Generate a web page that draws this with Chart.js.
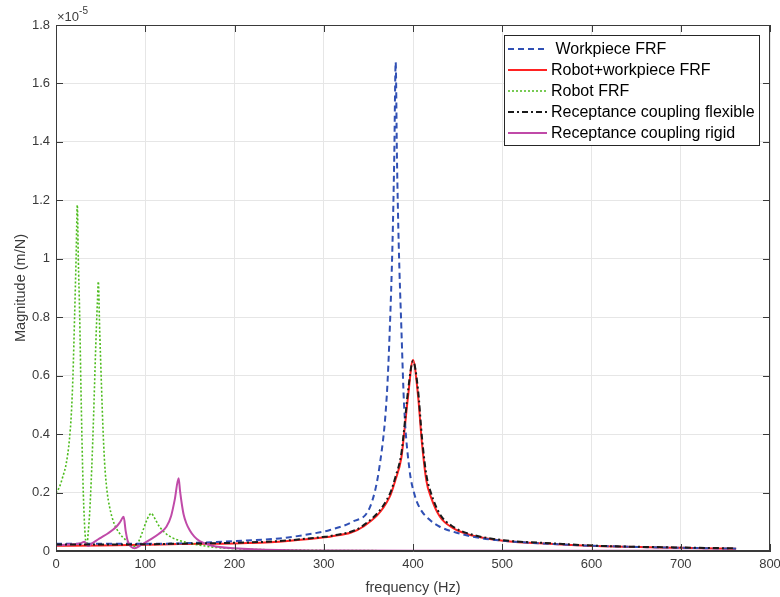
<!DOCTYPE html>
<html>
<head>
<meta charset="utf-8">
<title>FRF comparison</title>
<script src="https://cdn.jsdelivr.net/npm/chart.js@4.4.0/dist/chart.umd.min.js"></script>
<style>
  html, body { margin: 0; padding: 0; background: #fff; }
  #frf { display: block; }
</style>
</head>
<body>
<canvas id="frf" width="780" height="597"></canvas>
<script>
// ---------- Data (magnitudes in 1e-5 m/N) ----------
const xTicks = [0, 100, 200, 300, 400, 500, 600, 700, 800];
const yTicks = [0, 0.2, 0.4, 0.6, 0.8, 1, 1.2, 1.4, 1.6, 1.8];

const workpieceFreq = [0, 50, 100, 138, 200, 250, 299, 307, 332, 352, 363, 370.6, 374, 377, 379, 380.6, 382, 384, 387, 390, 396, 402, 408, 419, 430, 445, 467, 501, 550, 600, 650, 700, 762];
const workpieceMag  = [0.025, 0.025, 0.025, 0.026, 0.034, 0.043, 0.066, 0.072, 0.10, 0.152, 0.30, 0.53, 0.76, 1.05, 1.35, 1.673, 1.35, 1.05, 0.76, 0.5, 0.28, 0.19, 0.145, 0.106, 0.083, 0.066, 0.049, 0.035, 0.025, 0.018, 0.014, 0.011, 0.008];

const combinedFreq = [0, 50, 100, 138, 200, 250, 299, 307, 344, 374, 380, 387, 390, 394.5, 400, 405.7, 410, 415, 420, 430, 445, 464, 501, 557, 606, 700, 762];
const combinedMag  = [0.018, 0.019, 0.021, 0.024, 0.026, 0.032, 0.046, 0.049, 0.083, 0.186, 0.24, 0.32, 0.40, 0.53, 0.654, 0.53, 0.37, 0.24, 0.185, 0.118, 0.078, 0.055, 0.035, 0.024, 0.017, 0.011, 0.008];

const robotFreq = [0, 4, 7.7, 11.5, 15, 17.2, 19, 20.9, 22.5, 23.9, 25, 26.5, 28, 30.2, 32, 33.2, 34.7, 36, 37.7, 40, 42.2, 44, 45.2, 46.5, 47.4, 49, 50.8, 52.5, 54.5, 57, 60.1, 65, 71.3, 78, 84, 88, 93, 97.4, 101, 104, 106.8, 110, 116, 123, 130.7, 145, 161, 180, 200, 225, 250, 300, 400, 500, 600, 700, 762];
const robotMag  = [0.198, 0.22, 0.255, 0.30, 0.38, 0.47, 0.6, 0.81, 1.0, 1.184, 1.0, 0.81, 0.55, 0.24, 0.09, 0.037, 0.02, 0.06, 0.13, 0.28, 0.47, 0.65, 0.76, 0.86, 0.922, 0.75, 0.58, 0.43, 0.30, 0.21, 0.15, 0.095, 0.06, 0.038, 0.022, 0.016, 0.035, 0.07, 0.1, 0.12, 0.129, 0.115, 0.083, 0.06, 0.045, 0.03, 0.02, 0.012, 0.008, 0.005, 0.004, 0.002, 0.001, 0.001, 0.001, 0.001, 0.001];

const flexibleFreq = [0, 50, 100, 138, 200, 250, 299, 307, 344, 374, 380, 387, 390, 394.5, 400, 405.7, 410, 415, 420, 430, 445, 464, 501, 557, 606, 700, 762];
const flexibleMag  = [0.022, 0.022, 0.023, 0.025, 0.028, 0.034, 0.048, 0.051, 0.087, 0.195, 0.25, 0.335, 0.415, 0.55, 0.65, 0.55, 0.39, 0.26, 0.2, 0.127, 0.083, 0.058, 0.037, 0.026, 0.018, 0.012, 0.009];

const rigidFreq = [0, 15, 28, 32, 35.8, 40, 48.9, 58, 67.6, 72, 75.8, 78, 80.6, 84, 88.1, 95, 105, 115, 123.7, 129, 133, 137.4, 139, 141, 143, 146, 150, 155, 161, 175, 200, 250, 300, 400, 500, 600, 700, 762];
const rigidMag  = [0.02, 0.022, 0.027, 0.032, 0.017, 0.025, 0.043, 0.06, 0.083, 0.1, 0.117, 0.07, 0.032, 0.015, 0.009, 0.02, 0.038, 0.058, 0.083, 0.12, 0.175, 0.249, 0.205, 0.16, 0.125, 0.095, 0.07, 0.049, 0.034, 0.018, 0.009, 0.003, 0.002, 0.001, 0.001, 0.001, 0.001, 0.001];

// ---------- Helpers ----------
const FONT = "'Liberation Sans', Arial, sans-serif";
const AXIS_COLOR = '#3a3a3a';

function pts(freq, mag) {
  return freq.map((f, i) => ({ x: f, y: mag[i] }));
}

// MATLAB-ish box, inward ticks, exponent label and legend
const matlabDecor = {
  id: 'matlabDecor',
  afterDraw(chart) {
    const { ctx, chartArea: a, scales } = chart;
    ctx.save();

    // box outline
    ctx.strokeStyle = AXIS_COLOR;
    ctx.lineWidth = 1;
    ctx.strokeRect(Math.round(a.left) + 0.5, Math.round(a.top) + 0.5,
      Math.round(a.right - a.left) - 1, Math.round(a.bottom - a.top) - 1);

    // inward tick marks
    ctx.beginPath();
    for (const t of xTicks) {
      const px = Math.round(scales.x.getPixelForValue(t)) + 0.5;
      ctx.moveTo(px, a.bottom); ctx.lineTo(px, a.bottom - 7);
      ctx.moveTo(px, a.top); ctx.lineTo(px, a.top + 7);
    }
    for (const t of yTicks) {
      const py = Math.round(scales.y.getPixelForValue(t)) + 0.5;
      ctx.moveTo(a.left, py); ctx.lineTo(a.left + 7, py);
      ctx.moveTo(a.right, py); ctx.lineTo(a.right - 7, py);
    }
    ctx.stroke();

    // exponent label
    ctx.fillStyle = AXIS_COLOR;
    ctx.textBaseline = 'alphabetic';
    ctx.textAlign = 'left';
    ctx.font = `13px ${FONT}`;
    const base = '\u00d710';
    ctx.fillText(base, a.left + 1, a.top - 4);
    const bw = ctx.measureText(base).width;
    ctx.font = `10px ${FONT}`;
    ctx.fillText('-5', a.left + 1 + bw, a.top - 11);

    // legend
    ctx.font = `16px ${FONT}`;
    const sets = chart.data.datasets;
    let maxW = 0;
    for (const d of sets) maxW = Math.max(maxW, ctx.measureText(d.label).width);
    const rowH = 21, sample = 39;
    const boxW = Math.ceil(4 + sample + 4 + maxW + 4);
    const boxH = rowH * sets.length + 5;
    const bx = Math.round(a.right - 11 - boxW);
    const by = Math.round(a.top + 10);
    ctx.fillStyle = '#fff';
    ctx.fillRect(bx, by, boxW, boxH);
    ctx.strokeStyle = '#262626';
    ctx.lineWidth = 1;
    ctx.setLineDash([]);
    ctx.strokeRect(bx + 0.5, by + 0.5, boxW, boxH);

    sets.forEach((d, i) => {
      const cy = by + 14 + i * rowH;
      ctx.beginPath();
      ctx.strokeStyle = d.borderColor;
      ctx.lineWidth = d.borderWidth;
      ctx.setLineDash(d.borderDash || []);
      ctx.moveTo(bx + 4, cy); ctx.lineTo(bx + 4 + sample, cy);
      ctx.stroke();
      ctx.setLineDash([]);
      ctx.fillStyle = '#000';
      ctx.textBaseline = 'middle';
      ctx.fillText(d.label, bx + 4 + sample + 4, cy + 1);
    });
    ctx.restore();
  }
};

// ---------- Chart ----------
const lineBase = { pointRadius: 0, fill: false, cubicInterpolationMode: 'monotone' };

new Chart(document.getElementById('frf'), {
  type: 'line',
  data: {
    datasets: [
      { ...lineBase, label: ' Workpiece FRF', data: pts(workpieceFreq, workpieceMag),
        borderColor: '#3050b4', borderWidth: 2, borderDash: [6, 4], order: 2 },
      { ...lineBase, label: 'Robot+workpiece FRF', data: pts(combinedFreq, combinedMag),
        borderColor: '#ff2222', borderWidth: 2, order: 4 },
      { ...lineBase, label: 'Robot FRF', data: pts(robotFreq, robotMag),
        borderColor: '#4cbb1c', borderWidth: 1.6, borderDash: [2, 2], order: 3 },
      { ...lineBase, label: 'Receptance coupling flexible', data: pts(flexibleFreq, flexibleMag),
        borderColor: '#1a1a1a', borderWidth: 2, borderDash: [6, 3, 2, 3], order: 0 },
      { ...lineBase, label: 'Receptance coupling rigid', data: pts(rigidFreq, rigidMag),
        borderColor: '#c04aa8', borderWidth: 2, order: 1 }
    ]
  },
  options: {
    responsive: false,
    animation: false,
    layout: { padding: { top: 25, right: 10, left: 12, bottom: 0 } },
    plugins: { legend: { display: false }, tooltip: { enabled: false } },
    scales: {
      x: {
        type: 'linear', min: 0, max: 800,
        afterBuildTicks: s => { s.ticks = xTicks.map(v => ({ value: v })); },
        afterFit: s => { s.height = 46; s.paddingLeft = 0; s.paddingRight = 0; },
        ticks: { color: AXIS_COLOR, font: { family: FONT, size: 13 }, padding: 6, maxRotation: 0 },
        grid: { color: '#e6e6e6', drawTicks: false },
        border: { display: true, color: AXIS_COLOR },
        title: { display: true, text: 'frequency (Hz)', color: AXIS_COLOR,
          font: { family: FONT, size: 14.5 }, padding: { top: 1, bottom: 0 } }
      },
      y: {
        type: 'linear', min: 0, max: 1.8,
        afterBuildTicks: s => { s.ticks = yTicks.map(v => ({ value: v })); },
        afterFit: s => { s.width = 44; s.paddingTop = 0; s.paddingBottom = 0; },
        ticks: { color: AXIS_COLOR, font: { family: FONT, size: 13 }, padding: 6,
          callback: v => String(Number(v.toFixed(1))) },
        grid: { color: '#e6e6e6', drawTicks: false },
        border: { display: true, color: AXIS_COLOR },
        title: { display: true, text: 'Magnitude (m/N)', color: AXIS_COLOR,
          font: { family: FONT, size: 14.5 }, padding: { top: 0, bottom: 0 } }
      }
    }
  },
  plugins: [matlabDecor]
});
</script>
</body>
</html>
